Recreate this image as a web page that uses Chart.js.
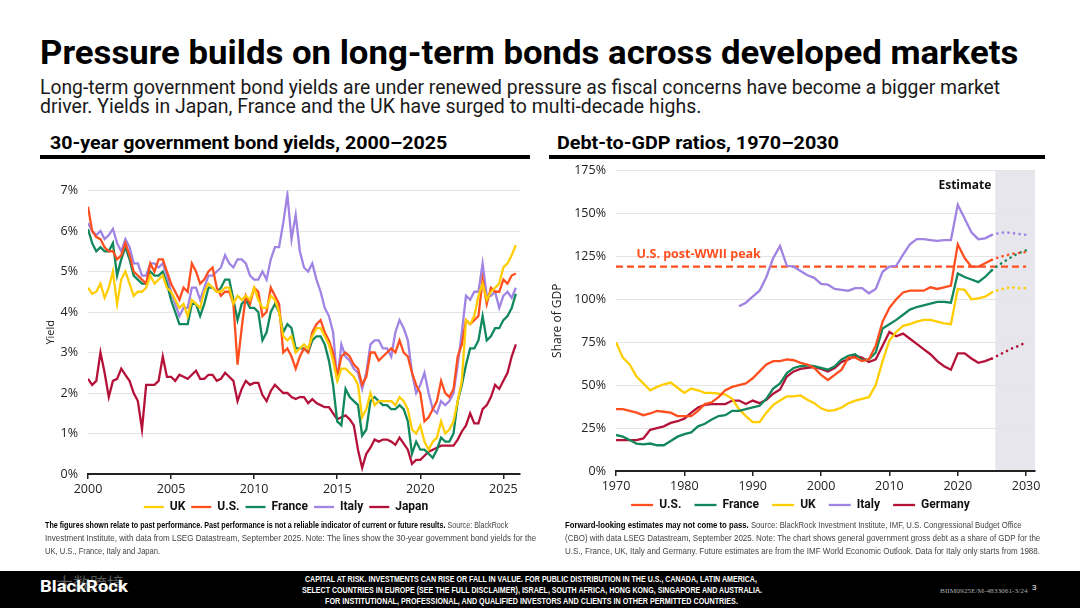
<!DOCTYPE html>
<html><head><meta charset="utf-8">
<script src="https://cdn.jsdelivr.net/npm/chart.js@4.4.1/dist/chart.umd.min.js"></script>
<style>
html,body{margin:0;padding:0;width:1080px;height:608px;overflow:hidden;background:#fff;}
.t{position:absolute;white-space:nowrap;display:inline-block;transform-origin:0 0;}
#title{font-family:Roboto,"Liberation Sans",sans-serif;font-weight:700;font-size:33px;line-height:33px;color:#000;}
.sub{font-family:Roboto,"Liberation Sans",sans-serif;font-weight:400;font-size:20px;line-height:20px;color:#1a1a1a;}
.hdr{font-family:Roboto,"Liberation Sans",sans-serif;font-weight:700;font-size:18px;line-height:18px;color:#000;}
.rule{position:absolute;height:4px;background:#000;}
.fn{font-family:"Liberation Sans Narrow","Liberation Sans",sans-serif;font-size:9.5px;line-height:9.5px;color:#444;}
.fn b{color:#000;}
#footer{position:absolute;left:0;top:571px;width:1080px;height:37px;background:#000;}
.ft{font-family:"Liberation Sans Narrow","Liberation Sans",sans-serif;font-weight:700;font-size:8.6px;line-height:8.6px;color:#fff;}
canvas{position:absolute;}
</style></head>
<body>
<span class="t" id="title" style="left:40px;top:36px" data-w="978">Pressure builds on long-term bonds across developed markets</span>
<span class="t sub" style="left:40px;top:77px" data-w="960">Long-term government bond yields are under renewed pressure as fiscal concerns have become a bigger market</span>
<span class="t sub" style="left:40px;top:96px" data-w="661">driver. Yields in Japan, France and the UK have surged to multi-decade highs.</span>
<span class="t hdr" style="left:50px;top:134px" data-w="397">30-year government bond yields, 2000–2025</span>
<span class="t hdr" style="left:557px;top:134px" data-w="282">Debt-to-GDP ratios, 1970–2030</span>
<div class="rule" style="left:40px;top:155px;width:490px"></div>
<div class="rule" style="left:549px;top:155px;width:496px"></div>

<canvas id="c1" width="540" height="350" style="left:0;top:173px"></canvas>
<canvas id="c2" width="520" height="368" style="left:540px;top:153px"></canvas>

<span class="t fn" style="left:45px;top:520px" data-w="463"><b>The figures shown relate to past performance. Past performance is not a reliable indicator of current or future results.</b> Source: BlackRock</span>
<span class="t fn" style="left:45px;top:533px" data-w="491">Investment Institute, with data from LSEG Datastream, September 2025. Note: The lines show the 30-year government bond yields for the</span>
<span class="t fn" style="left:45px;top:546px" data-w="115">UK, U.S., France, Italy and Japan.</span>
<span class="t fn" style="left:565px;top:520px" data-w="457"><b>Forward-looking estimates may not come to pass.</b> Source: BlackRock Investment Institute, IMF, U.S. Congressional Budget Office</span>
<span class="t fn" style="left:565px;top:533px" data-w="475">(CBO) with data LSEG Datastream, September 2025. Note: The chart shows general government gross debt as a share of GDP for the</span>
<span class="t fn" style="left:565px;top:546px" data-w="475">U.S., France, UK, Italy and Germany. Future estimates are from the IMF World Economic Outlook. Data for Italy only starts from 1988.</span>

<div id="footer"></div>
<span class="t" style="left:40px;top:578px;font-family:Roboto,'Liberation Sans',sans-serif;font-weight:700;font-size:17px;line-height:17px;color:#fff" data-w="88">BlackRock</span>
<span class="t" style="left:56px;top:574px;font-family:'Noto Sans CJK SC',sans-serif;font-size:17px;line-height:17px;color:rgba(255,255,255,0.35)">大数跨境</span>
<span class="t ft" style="left:305px;top:575px" data-w="452">CAPITAL AT RISK. INVESTMENTS CAN RISE OR FALL IN VALUE. FOR PUBLIC DISTRIBUTION IN THE U.S., CANADA, LATIN AMERICA,</span>
<span class="t ft" style="left:302px;top:586px" data-w="460">SELECT COUNTRIES IN EUROPE (SEE THE FULL DISCLAIMER), ISRAEL, SOUTH AFRICA, HONG KONG, SINGAPORE AND AUSTRALIA.</span>
<span class="t ft" style="left:325px;top:597px" data-w="413">FOR INSTITUTIONAL, PROFESSIONAL, AND QUALIFIED INVESTORS AND CLIENTS IN OTHER PERMITTED COUNTRIES.</span>
<span class="t" style="left:940px;top:588px;font-family:'Liberation Serif',serif;font-size:7px;line-height:7px;color:#aaa" data-w="88">BIIM0925E/M-4833061-3/24</span>
<span class="t" style="left:1032px;top:584px;font-family:'Liberation Sans',sans-serif;font-size:8px;line-height:8px;color:#fff">3</span>

<script>
// ---------- Left chart: 30-year government bond yields (quarterly) ----------
const yieldDates = [
2000,2000.25,2000.5,2000.75,2001,2001.25,2001.5,2001.75,2002,2002.25,2002.5,2002.75,
2003,2003.25,2003.5,2003.75,2004,2004.25,2004.5,2004.75,2005,2005.25,2005.5,2005.75,
2006,2006.25,2006.5,2006.75,2007,2007.25,2007.5,2007.75,2008,2008.25,2008.5,2008.75,
2009,2009.25,2009.5,2009.75,2010,2010.25,2010.5,2010.75,2011,2011.25,2011.5,2011.75,
2012,2012.25,2012.5,2012.75,2013,2013.25,2013.5,2013.75,2014,2014.25,2014.5,2014.75,
2015,2015.25,2015.5,2015.75,2016,2016.25,2016.5,2016.75,2017,2017.25,2017.5,2017.75,
2018,2018.25,2018.5,2018.75,2019,2019.25,2019.5,2019.75,2020,2020.25,2020.5,2020.75,
2021,2021.25,2021.5,2021.75,2022,2022.25,2022.5,2022.75,2023,2023.25,2023.5,2023.75,
2024,2024.25,2024.5,2024.75,2025,2025.25,2025.5,2025.75];
const ukYield = [
4.6,4.45,4.5,4.7, 4.35,4.6,5.0,4.2, 4.8,5.0,4.7,4.4, 4.5,4.5,4.6,4.9, 4.7,4.8,4.9,4.6,
4.5,4.3,4.1,4.2, 3.9,4.3,4.2,4.1, 4.5,4.7,4.6,4.5, 4.5,4.6,4.6,4.2, 4.4,4.3,4.4,4.3,
4.6,4.3,4.1,4.1, 4.4,4.3,4.0,3.4, 3.3,3.4,3.0,3.1, 3.2,3.1,3.4,3.6, 3.6,3.4,3.2,2.8,
2.3,2.6,2.6,2.5, 2.4,2.2,1.4,1.6, 2.0,1.7,1.8,1.8, 1.8,1.8,1.7,1.9, 1.8,1.6,1.1,1.0,
1.2,0.8,0.6,0.8, 0.9,1.3,1.0,1.1, 1.3,1.8,2.3,3.8, 3.7,3.9,4.4,4.7, 4.3,4.5,4.6,4.7,
5.1,5.2,5.4,5.65];
const usYield = [
6.6,6.0,5.85,5.8, 5.6,5.5,5.5,5.3, 5.4,5.7,5.4,5.0, 4.9,4.8,4.7,5.2, 5.0,5.3,5.3,5.0,
4.7,4.5,4.3,4.6, 4.5,5.2,5.0,4.7, 4.8,5.0,5.1,4.6, 4.4,4.5,4.5,4.2, 2.7,3.6,4.4,4.2,
4.6,4.5,3.9,4.0, 4.6,4.4,4.2,3.0, 3.1,2.9,2.6,2.9, 3.1,3.0,3.5,3.7, 3.8,3.5,3.3,3.0,
2.4,2.9,3.0,2.9, 2.7,2.6,2.2,2.4, 3.0,3.0,2.8,2.9, 3.0,3.1,3.0,3.3, 3.0,2.9,2.5,2.2,
2.0,1.3,1.4,1.6, 1.8,2.3,2.0,1.9, 2.1,2.9,3.2,3.8, 3.7,3.8,3.9,4.8, 4.2,4.6,4.5,4.5,
4.8,4.7,4.9,4.95];
const franceYield = [
6.05,5.7,5.5,5.6, 5.5,5.5,5.7,4.9, 5.3,5.6,5.3,4.9, 4.8,4.7,4.7,5.0, 4.9,4.9,5.0,4.7,
4.3,4.0,3.7,3.7, 3.7,4.2,4.2,3.9, 4.2,4.6,4.6,4.5, 4.6,4.8,4.8,4.3, 3.8,4.2,4.3,4.1,
4.1,4.0,3.3,3.5, 4.0,4.2,4.0,3.5, 3.7,3.6,3.1,3.1, 3.1,3.0,3.3,3.4, 3.4,3.2,2.8,2.2,
1.3,1.2,2.1,1.9, 1.8,1.7,0.95,1.1, 1.8,1.9,1.8,1.7, 1.7,1.6,1.6,1.7, 1.6,1.3,0.5,0.8,
0.6,0.6,0.5,0.4, 0.6,0.9,0.8,0.8, 1.0,1.8,2.2,2.7, 3.1,3.1,3.3,3.9, 3.3,3.4,3.6,3.6,
3.8,3.9,4.1,4.45];
const italyYield = [
6.2,6.0,5.9,6.0, 5.8,5.9,6.05,5.7, 5.5,5.8,5.6,5.2, 5.2,4.9,4.9,5.2, 5.2,5.1,5.2,4.9,
4.5,4.2,3.9,4.1, 4.1,4.6,4.6,4.3, 4.6,4.9,4.9,5.0, 5.1,5.4,5.2,5.1, 5.3,5.3,5.2,4.9,
4.8,4.8,5.0,4.8, 5.3,5.6,5.6,6.2, 6.9,5.8,6.4,5.5, 5.1,5.0,5.2,4.8, 4.5,4.1,3.9,3.5,
2.3,3.2,2.9,2.8, 2.6,2.5,2.1,2.5, 3.2,3.3,3.3,3.1, 3.1,2.9,3.5,3.8, 3.6,3.3,2.5,2.0,
2.2,2.5,2.0,1.6, 1.5,1.8,1.7,1.8, 2.0,2.7,3.5,4.4, 4.3,4.5,4.5,5.2, 4.4,4.4,4.5,4.1,
4.4,4.5,4.35,4.6];
const japanYield = [
2.35,2.2,2.3,3.0, 2.5,1.9,2.3,2.35, 2.6,2.45,2.3,2.0, 1.8,1.1,2.2,2.2, 2.2,2.3,2.9,2.4,
2.4,2.3,2.45,2.4, 2.35,2.45,2.55,2.35, 2.35,2.45,2.45,2.3, 2.35,2.5,2.4,2.3, 1.8,2.1,2.3,2.2,
2.25,2.25,1.95,1.8, 2.05,2.2,2.1,2.0, 2.0,1.9,1.85,1.9, 1.9,1.75,1.85,1.75, 1.7,1.65,1.65,1.5,
1.35,1.4,1.45,1.35, 1.2,0.6,0.15,0.5, 0.65,0.85,0.8,0.85, 0.85,0.8,0.72,0.9, 0.75,0.6,0.25,0.35,
0.35,0.45,0.55,0.6, 0.65,0.7,0.7,0.7, 0.7,0.85,1.05,1.2, 1.5,1.25,1.25,1.6, 1.7,1.9,2.2,2.1,
2.3,2.5,2.9,3.2];
const yieldTicks = [0,1,2,3,4,5,6,7];

// ---------- Right chart: debt-to-GDP (annual) ----------
const debtYears = [1970,1971,1972,1973,1974,1975,1976,1977,1978,1979,1980,1981,1982,1983,1984,1985,1986,1987,1988,1989,
1990,1991,1992,1993,1994,1995,1996,1997,1998,1999,2000,2001,2002,2003,2004,2005,2006,2007,2008,2009,
2010,2011,2012,2013,2014,2015,2016,2017,2018,2019,2020,2021,2022,2023,2024,2025];
const usDebt = [36,36,35,34,32.5,33.5,35,34.5,34,32, 32,32,35,39,40,43,47,49,50,51,
54,58,62,64,64,65,64.5,63,62,60, 56,53,56,59,66,66,64,65,73,87, 95,100,104,105,105,105,107,106,107,108, 132,124,119,119,121,123];
const franceDebt = [21,20,18,16,15.5,16,15,15,17.5,20, 21.5,22.5,26,27.5,30,32,32.5,35,35,36,
37,38,42,48,51,57,60,61,61.5,61, 60,59,61,65,67,68,64.5,65,69,83, 85.5,88,91,94,95.5,96.5,97.5,98.5,98.5,98, 115,113,111.5,110,113,117];
const ukDebt = [75,66,62,55,51,47,49,50.5,51.5,48.5, 45.5,48,47,45.5,45.5,45,44.5,42,36,32,
28.5,28.5,34,38.5,41,43.5,43.5,44,41.5,39.5, 36.5,35,35.5,37,39.5,41,42,43,50,64, 76,81,84.5,85.5,87,88,88,87,86,85.5, 106,105.5,100,100.5,101.5,104];
const italyDebt = [null,null,null,null,null,null,null,null,null,null, null,null,null,null,null,null,null,null,96,98,
101.5,105,113,124,131,119.5,119,116.5,114,112.5, 109,108.5,106,105.5,105,106.5,106.5,103.5,106,116, 119,119.5,126,132,135,135,134.5,134,134.5,134.5, 155,147,139,135,135.5,137.5];
const germanyDebt = [18,18,18,18,19,24,25,26,28,29, 30.5,34,37,38.5,39,39,39,41,41,39,
41,39.5,41.5,45,47.5,55,58,59.5,60,60.5, 59.5,58,60,63.5,65,67,66,63.5,65,73, 81,78.5,80,77,74,71,68,64,61,59, 68.5,68.5,65.5,63,64,65.5];
const projYears = [2025,2026,2027,2028,2029,2030];
const usProj = [123,124.5,125.5,126.5,127,127.5];
const franceProj = [117,120,122.5,125,127,128.5];
const ukProj = [104,105.5,106.5,107,106.5,106.5];
const italyProj = [137.5,138.5,139,138.5,138,137.5];
const germanyProj = [65.5,67.5,69.5,71.5,73,75];
const usPeak = 119;
const peakSpan = [1970, 2030];
const estimateStart = 2025.5;

const C = {uk:'#FFCD00', us:'#FF4F1F', fr:'#11875C', it:'#A083E2', jp:'#B5123A'};
const TXT = '#222';
Chart.defaults.font.family = "'Open Sans', 'Noto Sans', sans-serif";
Chart.defaults.color = TXT;

function pts(xs, ys){ return xs.map((x,i)=>({x:x, y:ys[i]})); }
function lineDs(label, xs, ys, color, extra){
  return Object.assign({label:label, data:pts(xs,ys), borderColor:color, backgroundColor:color,
    borderWidth:2.3, pointRadius:0, pointHoverRadius:0, pointHitRadius:0, tension:0, spanGaps:false}, extra||{});
}
function legendOpts(pad, lineW, trail){
  return {
    position:'bottom',
    labels:{usePointStyle:true, pointStyle:'line', pointStyleWidth:lineW, boxHeight:12, padding:pad,
      color:'#111', font:{family:"Roboto, 'Liberation Sans', sans-serif", size:12, weight:'bold'},
      generateLabels:(chart)=>Chart.defaults.plugins.legend.labels.generateLabels(chart)
        .map(it=>Object.assign(it, {text: it.text + trail})),
      filter:(it)=>!it.text.startsWith('_')}
  };
}
// shifts the library's legend box horizontally just before drawing
const legendShift = {
  id:'legendShift',
  afterLayout(chart){
    const lg = chart.legend; if (!lg) return;
    lg._baseLeft = lg.left; lg._baseRight = lg.right;
  },
  beforeDraw(chart, args, opts){
    const lg = chart.legend; if (!lg || lg._baseLeft === undefined) return;
    lg.left = lg._baseLeft + opts.dx; lg.right = lg._baseRight + opts.dx;
  }
};

new Chart(document.getElementById('c1'), {
  type:'line',
  data:{datasets:[
    lineDs('UK', yieldDates, ukYield, C.uk),
    lineDs('U.S.', yieldDates, usYield, C.us),
    lineDs('France', yieldDates, franceYield, C.fr),
    lineDs('Italy', yieldDates, italyYield, C.it),
    lineDs('Japan', yieldDates, japanYield, C.jp)
  ]},
  options:{
    responsive:false, animation:false,
    layout:{padding:{left:40, right:20, top:3, bottom:0}},
    plugins:{legend:legendOpts(6, 20, ''), tooltip:{enabled:false}, legendShift:{dx:6}},
    scales:{
      x:{type:'linear', min:2000, max:2026,
        ticks:{stepSize:5, includeBounds:false, callback:v=>String(v), font:{size:12.5}, color:TXT, padding:3, maxRotation:0},
        grid:{drawOnChartArea:false, drawTicks:true, tickLength:5, color:'#222', lineWidth:1.5},
        border:{display:true, color:'#222', width:2},
        afterFit:s=>{s.height=21;}},
      y:{min:0, max:7,
        afterBuildTicks:s=>{s.ticks = yieldTicks.map(v=>({value:v}));},
        ticks:{callback:v=>v+'%', font:{size:12.5}, color:TXT, padding:10},
        grid:{color:'#e4e4e4', drawTicks:false, lineWidth:1},
        border:{display:false},
        title:{display:true, text:'Yield', font:{size:11}, color:TXT, padding:{top:4, bottom:0}},
        afterFit:s=>{s.width=48;}}
    }
  },
  plugins:[legendShift]
});

const debtTicks = [0,25,50,75,100,125,150,175];
const annotations = {
  id:'annot',
  beforeDraw(chart){
    const {ctx, chartArea:a, scales:{x}} = chart;
    const x0 = x.getPixelForValue(estimateStart);
    ctx.save(); ctx.fillStyle = '#E6E6EC';
    ctx.fillRect(x0, a.top, a.right - x0, a.bottom - a.top);
    ctx.restore();
  },
  afterDatasetsDraw(chart){
    const {ctx, scales:{x,y}} = chart;
    ctx.save();
    ctx.font = "bold 12px 'Open Sans', sans-serif";
    ctx.fillStyle = '#111'; ctx.textAlign = 'right'; ctx.textBaseline = 'middle';
    ctx.fillText('Estimate', x.getPixelForValue(estimateStart) - 4, y.getPixelForValue(166));
    ctx.font = "bold 12.5px 'Open Sans', sans-serif";
    ctx.fillStyle = C.us; ctx.textAlign = 'left';
    ctx.fillText('U.S. post-WWII peak', x.getPixelForValue(1973), y.getPixelForValue(usPeak) - 12);
    ctx.restore();
  }
};
const dotted = {borderDash:[0.1,5.5], borderCapStyle:'round', borderWidth:2.6};

new Chart(document.getElementById('c2'), {
  type:'line',
  data:{datasets:[
    lineDs('U.S.', debtYears, usDebt, C.us),
    lineDs('France', debtYears, franceDebt, C.fr),
    lineDs('UK', debtYears, ukDebt, C.uk),
    lineDs('Italy', debtYears, italyDebt, C.it),
    lineDs('Germany', debtYears, germanyDebt, C.jp),
    lineDs('_usP', projYears, usProj, C.us, dotted),
    lineDs('_frP', projYears, franceProj, C.fr, dotted),
    lineDs('_ukP', projYears, ukProj, C.uk, dotted),
    lineDs('_itP', projYears, italyProj, C.it, dotted),
    lineDs('_deP', projYears, germanyProj, C.jp, dotted),
    lineDs('_peak', peakSpan, [usPeak, usPeak], C.us, {borderDash:[7,4], borderWidth:2.4})
  ]},
  options:{
    responsive:false, animation:false,
    layout:{padding:{left:8, right:25, top:3, bottom:0}},
    plugins:{legend:legendOpts(7, 22, '\u2002'), tooltip:{enabled:false}, legendShift:{dx:12}},
    scales:{
      x:{type:'linear', min:1970, max:2031.3,
        ticks:{stepSize:10, includeBounds:false, callback:v=>String(v), font:{size:12.5}, color:TXT, padding:3, maxRotation:0},
        grid:{drawOnChartArea:false, drawTicks:true, tickLength:5, color:'#222', lineWidth:1.5},
        border:{display:true, color:'#222', width:2},
        afterFit:s=>{s.height=21;}},
      y:{min:0, max:175,
        afterBuildTicks:s=>{s.ticks = debtTicks.map(v=>({value:v}));},
        ticks:{callback:v=>v+'%', font:{size:12.5}, color:TXT, padding:10},
        grid:{color:'#e4e4e4', drawTicks:false, lineWidth:1},
        border:{display:false},
        title:{display:true, text:'Share of GDP', font:{size:12}, color:TXT, padding:{top:2, bottom:0}},
        afterFit:s=>{s.width=68;}}
    }
  },
  plugins:[annotations, legendShift]
});

function fitAll(){
  document.querySelectorAll('[data-w]').forEach(el=>{
    el.style.transform = 'none';
    const w = parseFloat(el.dataset.w);
    el.style.transform = 'scaleX(' + (w / el.offsetWidth) + ')';
  });
}
fitAll();
if (document.fonts && document.fonts.ready) document.fonts.ready.then(fitAll);
</script>
</body></html>
